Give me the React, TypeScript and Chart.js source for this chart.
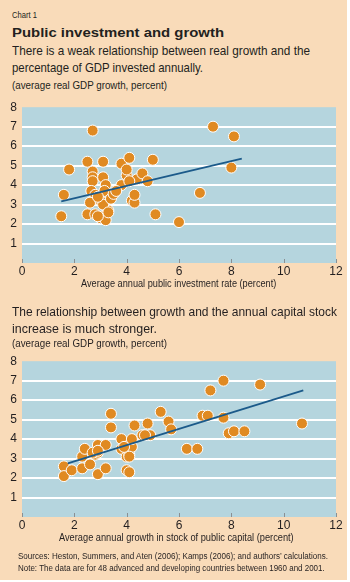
import React, { useEffect, useLayoutEffect, useRef } from "react";
import { Chart, registerables } from "chart.js";
Chart.register(...registerables);

// Top panel: public investment rate vs real GDP growth
const invRate = [1.5, 1.6, 1.8, 2.5, 2.5, 2.7, 2.7, 2.7, 2.7, 2.65, 2.8, 2.6, 2.8, 3.0, 3.1, 3.2, 3.3, 3.0, 3.1, 3.1, 3.1, 3.2, 3.15, 3.4, 3.5, 3.8, 3.8, 4.0, 4.0, 4.1, 4.2, 4.3, 4.3, 4.4, 4.6, 4.8, 5.0, 5.1, 6.0, 6.8, 7.3, 8.1, 8.0, 2.9, 3.3, 3.6, 2.9, 4.1];
const invGrowth = [2.4, 3.5, 4.8, 5.2, 2.5, 6.8, 4.7, 4.4, 4.2, 3.7, 3.5, 3.1, 2.5, 2.3, 2.4, 2.2, 2.7, 3.2, 3.0, 5.2, 4.4, 4.0, 3.7, 3.3, 3.55, 5.1, 4.0, 4.5, 4.8, 5.4, 3.2, 3.1, 3.5, 4.3, 4.6, 4.2, 5.3, 2.5, 2.1, 3.6, 7.0, 6.5, 4.9, 3.4, 2.6, 3.7, 2.4, 4.2];
const invTrendX = [1.5, 8.4];
const invTrendY = [3.17, 5.36];

// Bottom panel: growth in stock of public capital vs real GDP growth
const capStock = [1.6, 1.6, 1.9, 2.3, 2.3, 2.4, 2.6, 2.8, 2.9, 2.9, 2.9, 3.2, 3.2, 3.4, 3.4, 3.8, 3.8, 4.0, 4.1, 4.0, 4.1, 4.1, 4.2, 4.2, 4.3, 4.6, 4.8, 4.9, 5.3, 5.6, 5.7, 6.3, 6.7, 6.9, 7.1, 7.2, 7.7, 7.7, 7.9, 8.1, 8.5, 9.1, 10.7, 2.7, 4.7, 4.1, 2.9, 3.9];
const capGrowth = [2.6, 2.1, 2.4, 2.5, 3.1, 3.5, 2.7, 3.2, 3.7, 3.3, 2.2, 3.7, 2.5, 5.3, 4.6, 4.0, 3.5, 2.4, 2.3, 3.1, 3.2, 3.7, 3.6, 4.0, 4.7, 4.2, 4.8, 4.2, 5.4, 4.9, 4.5, 3.5, 3.5, 5.2, 5.2, 6.5, 7.0, 5.1, 4.3, 4.4, 4.4, 6.8, 4.8, 3.3, 4.2, 3.1, 3.4, 3.6];
const capTrendX = [1.75, 10.75];
const capTrendY = [2.75, 6.5];

const xTickValues = [0, 2, 4, 6, 8, 10, 12];
const yMin = 0;
const yMax = 8;

const FONT = "'Liberation Sans', Arial, sans-serif";
const TEXT = "#231f20";
const BEIGE = "#f9dbb9";
const PLOT_BG = "#b5d5de";
const DOT = "#e08a22";
const LINE = "#1b5a8a";

const bgPlugin = {
  id: "plotbg",
  beforeDraw(chart: any) {
    const { ctx, chartArea } = chart;
    ctx.save();
    ctx.fillStyle = PLOT_BG;
    ctx.fillRect(chartArea.left, chartArea.top, chartArea.right - chartArea.left, chartArea.bottom - chartArea.top);
    ctx.restore();
  },
  beforeDatasetsDraw(chart: any) {
    const { ctx, chartArea, scales } = chart;
    ctx.save();
    ctx.strokeStyle = "#8a8f92";
    ctx.lineWidth = 1;
    xTickValues.forEach((v) => {
      const px = Math.round(scales.x.getPixelForValue(v)) + 0.5;
      ctx.beginPath();
      ctx.moveTo(px, chartArea.bottom - 4);
      ctx.lineTo(px, chartArea.bottom);
      ctx.stroke();
    });
    ctx.restore();
  },
};

function makeConfig(xs: number[], ys: number[], tx: number[], ty: number[]): any {
  return {
    type: "scatter",
    data: {
      datasets: [
        {
          data: tx.map((x, i) => ({ x, y: ty[i] })),
          showLine: true,
          borderColor: LINE,
          borderWidth: 1.8,
          pointRadius: 0,
          fill: false,
        },
        {
          data: xs.map((x, i) => ({ x, y: ys[i] })),
          backgroundColor: DOT,
          borderColor: "#ffffff",
          borderWidth: 1,
          pointRadius: 5.5,
        },
      ],
    },
    options: {
      responsive: false,
      maintainAspectRatio: false,
      animation: false,
      devicePixelRatio: 1,
      layout: { padding: { left: 0, right: 14, top: 8, bottom: 0 } },
      plugins: { legend: { display: false }, tooltip: { enabled: false } },
      scales: {
        x: {
          type: "linear",
          min: 0,
          max: 12,
          afterBuildTicks: (s: any) => {
            s.ticks = xTickValues.map((v) => ({ value: v }));
          },
          afterFit: (s: any) => {
            s.height = 20;
          },
          grid: { display: false, drawTicks: false },
          border: { display: false },
          ticks: { color: TEXT, padding: 1, font: { family: FONT, size: 12 } },
        },
        y: {
          type: "linear",
          min: yMin,
          max: yMax,
          ticks: {
            stepSize: 1,
            color: TEXT,
            padding: 5,
            font: { family: FONT, size: 12 },
            callback: (v: any) => (v === 0 ? "" : String(v)),
          },
          afterFit: (s: any) => {
            s.width = 22;
          },
          grid: {
            drawTicks: false,
            lineWidth: 2,
            color: (c: any) => (c.tick && (c.tick.value === yMin || c.tick.value === yMax) ? "rgba(0,0,0,0)" : "#ffffff"),
          },
          border: { display: false },
        },
      },
    },
    plugins: [bgPlugin],
  };
}

function ScatterPanel(props: { xs: number[]; ys: number[]; tx: number[]; ty: number[]; top: number }) {
  const ref = useRef<HTMLCanvasElement | null>(null);
  useEffect(() => {
    if (!ref.current) return;
    const chart = new Chart(ref.current, makeConfig(props.xs, props.ys, props.tx, props.ty));
    return () => chart.destroy();
  }, []);
  return (
    <canvas
      ref={ref}
      width={350}
      height={188}
      style={{ position: "absolute", left: 0, top: props.top, width: 350, height: 188 }}
    />
  );
}

// A single line of condensed text: a regular font squeezed horizontally to the wanted width.
function TextLine(props: { text: string; left: number; baseline: number; size: number; width: number; bold?: boolean }) {
  const ref = useRef<HTMLSpanElement | null>(null);
  useLayoutEffect(() => {
    const el = ref.current;
    if (!el) return;
    el.style.transform = "none";
    const w = el.getBoundingClientRect().width;
    if (w > 0) el.style.transform = `scaleX(${props.width / w})`;
  }, []);
  return (
    <span
      ref={ref}
      style={{
        position: "absolute",
        left: props.left,
        top: props.baseline - 0.847 * props.size,
        fontFamily: FONT,
        fontSize: props.size,
        lineHeight: `${props.size}px`,
        fontWeight: props.bold ? "bold" : "normal",
        color: TEXT,
        whiteSpace: "nowrap",
        transformOrigin: "0 0",
        display: "inline-block",
      }}
    >
      {props.text}
    </span>
  );
}

export default function App() {
  return (
    <div style={{ position: "absolute", left: 0, top: 0, width: 347, height: 580, background: BEIGE, overflow: "hidden" }}>
      <TextLine text="Chart 1" left={12} baseline={18} size={9.5} width={25} />
      <TextLine text="Public investment and growth" left={12} baseline={37.7} size={13.5} width={212} bold />
      <TextLine text="There is a weak relationship between real growth and the" left={12} baseline={55.5} size={13} width={298} />
      <TextLine text="percentage of GDP invested annually." left={12} baseline={72} size={13} width={191} />
      <TextLine text="(average real GDP growth, percent)" left={12} baseline={89} size={10.5} width={155} />

      <ScatterPanel xs={invRate} ys={invGrowth} tx={invTrendX} ty={invTrendY} top={95} />
      <TextLine text="Average annual public investment rate (percent)" left={80.7} baseline={286.5} size={10.5} width={195.3} />

      <TextLine text="The relationship between growth and the annual capital stock" left={12} baseline={316} size={13} width={325} />
      <TextLine text="increase is much stronger." left={12} baseline={332.7} size={13} width={145} />
      <TextLine text="(average real GDP growth, percent)" left={12} baseline={347.3} size={10.5} width={155} />

      <ScatterPanel xs={capStock} ys={capGrowth} tx={capTrendX} ty={capTrendY} top={349} />
      <TextLine text="Average annual growth in stock of public capital (percent)" left={59.3} baseline={540.5} size={10.5} width={234.7} />

      <TextLine text="Sources: Heston, Summers, and Aten (2006); Kamps (2006); and authors’ calculations." left={18.3} baseline={559.3} size={8.5} width={310} />
      <TextLine text="Note: The data are for 48 advanced and developing countries between 1960 and 2001." left={18.3} baseline={570.7} size={8.5} width={306.7} />
    </div>
  );
}
